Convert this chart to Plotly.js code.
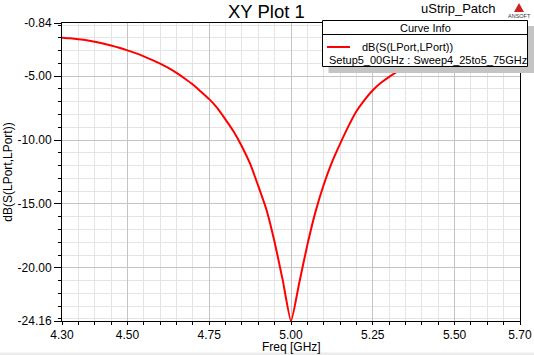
<!DOCTYPE html>
<html>
<head>
<meta charset="utf-8">
<script src="https://cdn.plot.ly/plotly-3.0.1.min.js"></script>
<style>html,body{margin:0;padding:0;background:#fff;}#chart{width:534px;height:355px;}</style>
</head>
<body>
<div id="chart"></div>
<script>
// Data (0.025 GHz steps)
const freqGHz = [4.300, 4.325, 4.350, 4.375, 4.400, 4.425, 4.450, 4.475, 4.500, 4.525, 4.550, 4.575, 4.600, 4.625, 4.650, 4.675, 4.700, 4.725, 4.750, 4.775, 4.800, 4.825, 4.850, 4.875, 4.900, 4.925, 4.950, 4.975, 5.000, 5.025, 5.050, 5.075, 5.100, 5.125, 5.150, 5.175, 5.200, 5.225, 5.250, 5.275, 5.300, 5.325, 5.350, 5.375, 5.400, 5.425, 5.450, 5.475, 5.500, 5.525, 5.550, 5.575, 5.600, 5.625, 5.650, 5.675, 5.700];
const s11dB = [-1.99, -2.04, -2.11, -2.19, -2.30, -2.44, -2.60, -2.78, -2.98, -3.20, -3.45, -3.72, -4.02, -4.36, -4.75, -5.18, -5.65, -6.22, -6.80, -7.50, -8.40, -9.35, -10.50, -11.85, -13.60, -15.45, -18.00, -21.00, -24.16, -21.20, -18.20, -15.60, -13.50, -11.75, -10.30, -8.95, -7.75, -6.85, -6.10, -5.52, -5.05, -4.65, -4.30, -3.98, -3.70, -3.45, -3.22, -3.02, -2.84, -2.68, -2.53, -2.40, -2.28, -2.17, -2.07, -1.98, -1.90];
const xTickVals = [4.30, 4.50, 4.75, 5.00, 5.25, 5.50, 5.70];
const xTickText = ["4.30", "4.50", "4.75", "5.00", "5.25", "5.50", "5.70"];
const yTickVals = [-0.84, -5.00, -10.00, -15.00, -20.00, -24.16];
const yTickText = ["-0.84", "-5.00", "-10.00", "-15.00", "-20.00", "-24.16"];
const traceName = "dB(S(LPort,LPort))";
const setupText = "Setup5_00GHz : Sweep4_25to5_75GHz";

const FONT = "Liberation Sans, Arial, sans-serif";
// plot area in pixels
const L = 62, R = 520, T = 23, B = 321;
const px = v => (v - L) / (R - L);
const py = v => (B - v) / (B - T);

const shapes = [
  // legend shadow
  {type:'rect', xref:'paper', yref:'paper', x0:px(328.5), x1:px(534), y0:py(26), y1:py(73), fillcolor:'#c4c4c4', line:{width:0}, layer:'above'},
  // legend box
  {type:'rect', xref:'paper', yref:'paper', x0:px(322.5), x1:px(527.5), y0:py(20.5), y1:py(66.5), fillcolor:'#ffffff', line:{color:'#000', width:1}, layer:'above'},
  {type:'line', xref:'paper', yref:'paper', x0:px(322.5), x1:px(527.5), y0:py(34.5), y1:py(34.5), line:{color:'#000', width:1}, layer:'above'},
  {type:'line', xref:'paper', yref:'paper', x0:px(327), x1:px(350), y0:py(47), y1:py(47), line:{color:'#ff0000', width:2}, layer:'above'},
  // bottom gray strip
  {type:'rect', xref:'paper', yref:'paper', x0:px(0), x1:px(534), y0:py(352.5), y1:py(356), fillcolor:'#ececec', line:{width:0}, layer:'below'},
  // ansoft logo triangle
  {type:'path', xref:'paper', yref:'paper', path:`M ${px(514)},${py(12)} L ${px(519)},${py(3)} L ${px(524)},${py(12)} Z`, fillcolor:'#cc2222', line:{width:0}, layer:'above'}
];

const annotations = [
  {text:'XY Plot 1', xref:'paper', yref:'paper', x:px(266.5), y:py(11), xanchor:'center', yanchor:'middle', showarrow:false, font:{family:FONT, size:18.5, color:'#000'}},
  {text:'uStrip_Patch', xref:'paper', yref:'paper', x:px(497), y:py(8.5), xanchor:'right', yanchor:'middle', showarrow:false, font:{family:FONT, size:13, color:'#000'}},
  {text:'ANSOFT', xref:'paper', yref:'paper', x:px(519), y:py(16), xanchor:'center', yanchor:'middle', showarrow:false, font:{family:FONT, size:5.5, color:'#333'}},
  {text:'Curve Info', xref:'paper', yref:'paper', x:px(425), y:py(28.5), xanchor:'center', yanchor:'middle', showarrow:false, font:{family:FONT, size:11, color:'#000'}},
  {text:traceName, xref:'paper', yref:'paper', x:px(360), y:py(47), xanchor:'left', yanchor:'middle', showarrow:false, font:{family:FONT, size:11, color:'#000'}},
  {text:setupText, xref:'paper', yref:'paper', x:px(327), y:py(60), xanchor:'left', yanchor:'middle', showarrow:false, font:{family:FONT, size:11, color:'#000'}},
  {text:'Freq [GHz]', xref:'paper', yref:'paper', x:px(291), y:py(346.5), xanchor:'center', yanchor:'middle', showarrow:false, font:{family:FONT, size:12, color:'#000'}}
];

const trace = {x:freqGHz, y:s11dB, type:'scatter', mode:'lines', name:traceName, line:{color:'#ff0000', width:2, shape:'spline', smoothing:0.5}, hoverinfo:'skip'};

const layout = {
  width:534, height:355,
  margin:{l:L, r:534-R, t:T, b:355-B, pad:0},
  paper_bgcolor:'#ffffff', plot_bgcolor:'#ffffff',
  showlegend:false,
  font:{family:FONT, size:12, color:'#000'},
  xaxis:{
    range:[4.30, 5.70], tickmode:'array', tickvals:xTickVals, ticktext:xTickText,
    showline:true, linecolor:'#000', linewidth:1, mirror:true,
    ticks:'outside', ticklen:3, tickcolor:'#000',
    showgrid:true, gridcolor:'#c4c4c4', gridwidth:1, zeroline:false,
    tickfont:{family:FONT, size:12, color:'#000'},
    minor:{tickmode:'linear', tick0:4.30, dtick:0.05, showgrid:true, gridcolor:'#e4e4e4', gridwidth:1, ticks:'outside', ticklen:3, tickcolor:'#000'}
  },
  yaxis:{
    range:[-24.16, -0.84], tickmode:'array', tickvals:yTickVals, ticktext:yTickText,
    showline:true, linecolor:'#000', linewidth:1, mirror:true,
    ticks:'outside', ticklen:7, tickcolor:'#000',
    showgrid:true, gridcolor:'#c4c4c4', gridwidth:1, zeroline:false,
    tickfont:{family:FONT, size:12, color:'#000'},
    minor:{tickmode:'linear', tick0:0, dtick:1, showgrid:true, gridcolor:'#e4e4e4', gridwidth:1, ticks:'outside', ticklen:3, tickcolor:'#000'},
    title:{text:'dB(S(LPort,LPort))', font:{family:FONT, size:12, color:'#000'}, standoff:2}
  },
  shapes:shapes,
  annotations:annotations
};

Plotly.newPlot('chart', [trace], layout, {displayModeBar:false, staticPlot:true});
</script>
</body>
</html>
